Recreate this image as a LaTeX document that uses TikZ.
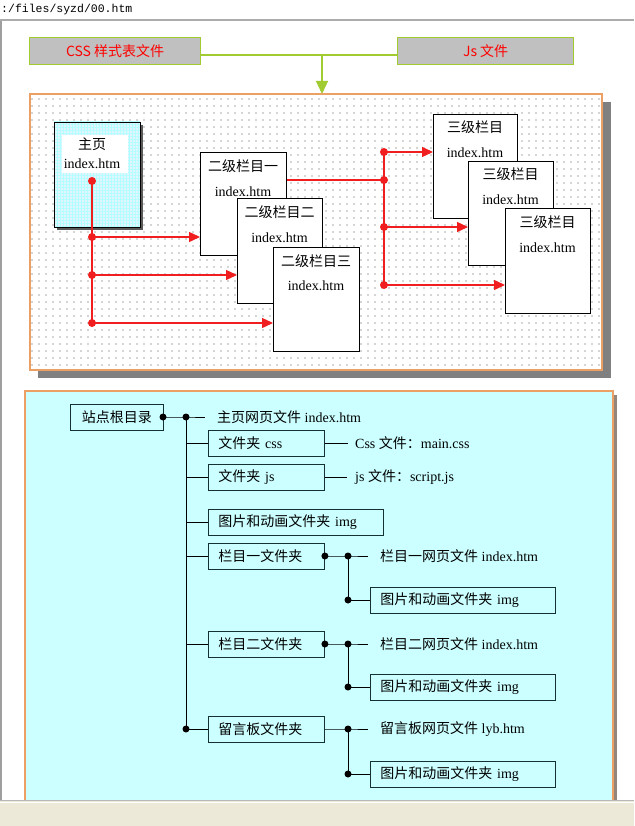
\documentclass[tikz,border=0pt]{standalone}
\usepackage{fontspec}
\setmainfont{Liberation Serif}
\setmonofont{Liberation Mono}
\newfontfamily\cjk{Noto Sans CJK SC}
\usetikzlibrary{patterns.meta,arrows.meta}
\definecolor{panelor}{RGB}{236,160,100}
\definecolor{lcyan}{RGB}{204,255,255}
\definecolor{lgreen}{RGB}{160,204,50}
\definecolor{bgray}{RGB}{192,192,192}
\definecolor{shgray}{RGB}{128,128,128}
\definecolor{barbg}{RGB}{236,233,216}
\definecolor{rcol}{RGB}{240,30,30}
\definecolor{tcol}{RGB}{20,50,50}
\newcommand{\zh}[1]{{\cjk #1}}
\begin{document}
\begin{tikzpicture}[x=1pt,y=-1pt,
  topbox/.style={draw=lgreen, line width=1.2pt, fill=bgray, minimum height=27pt, inner sep=0pt, text=red, font=\cjk\fontsize{14}{16}\selectfont, anchor=north west},
  page/.style={draw=black, line width=0.8pt, fill=white, inner sep=0pt, anchor=north west},
  ptext/.style={font=\fontsize{14}{16}\selectfont, inner sep=0pt},
  rdot/.style={circle, fill=rcol, inner sep=0pt, minimum size=8pt},
  redln/.style={draw=rcol, line width=1.4pt},
  rarrow/.style={draw=rcol, line width=1.4pt, -{Triangle[length=11pt,width=10pt]}},
  bdot/.style={circle, fill=black, inner sep=0pt, minimum size=7pt},
  tbox/.style={draw=tcol, line width=0.9pt, inner xsep=10pt, inner ysep=0pt, minimum height=26pt, align=left, anchor=west, font=\fontsize{14}{16}\selectfont},
  tline/.style={draw=black, line width=1pt},
  ttext/.style={anchor=west, inner sep=0pt, font=\fontsize{14}{16}\selectfont}
]
\useasboundingbox (0,0) rectangle (634,826);
\fill[white] (0,0) rectangle (634,826);
% browser frame
\node[anchor=base west, inner sep=0pt, font=\ttfamily\fontsize{11.5}{13}\selectfont] (url) at (1,13) {:/files/syzd/00.htm};
\fill[gray!65] (0,19) rectangle (634,21.5);
\fill[gray!75] (0,21.5) rectangle (2,800);

% top boxes
\node[topbox, minimum width=171pt] (css) at (29,37) {CSS 样式表文件};
\node[topbox, minimum width=176pt] (jsf) at (397,37) {Js 文件};
\coordinate (jn) at (322,55);
\coordinate (ptop) at (322,94);
\draw[lgreen, line width=1.3pt] (css.east |- jn) -- (jsf.west |- jn);
\draw[lgreen, line width=1.3pt, -{Triangle[length=13pt,width=12pt]}] (jn) -- (ptop);

% upper panel
\fill[shgray] (38,102) rectangle (611,378);
\fill[white] (30,94) rectangle (602,370);
\fill[pattern={Dots[distance=6.5pt,radius=0.65pt]}, pattern color=black!70] (30,94) rectangle (602,370);
\draw[panelor, line width=1.3pt] (30,94) rectangle (602,370);

% main page
\fill[shgray!70!black] (57,125) rectangle (143,230);
\fill[cyan!12] (54,122) rectangle (140,227);
\fill[pattern={Hatch[distance=3pt,angle=0,line width=0.4pt]}, pattern color=cyan!30] (54,122) rectangle (140,227);
\fill[white] (62,135) rectangle (128,173);
\node[page, fill=none, minimum width=86pt, minimum height=105pt] (mp) at (54,122) {};
\node[ptext] (mpt1) at (92,144) {\zh{主页}};
\node[ptext] (mpt2) at (92,164) {index.htm};

% second level pages
\node[page, minimum width=86pt, minimum height=103pt] (b1) at (200,152) {};
\node[ptext] (b1t1) at (243,166) {\zh{二级栏目一}};
\node[ptext] (b1t2) at (243,192) {index.htm};
\node[page, minimum width=85pt, minimum height=105pt] (b2) at (237,198) {};
\node[ptext] (b2t1) at (279.5,212) {\zh{二级栏目二}};
\node[ptext] (b2t2) at (279.5,238) {index.htm};
\node[page, minimum width=86pt, minimum height=104pt] (b3) at (273,247) {};
\node[ptext] (b3t1) at (316,261) {\zh{二级栏目三}};
\node[ptext] (b3t2) at (316,286) {index.htm};

% third level pages
\node[page, minimum width=84pt, minimum height=104pt] (c1) at (433,114) {};
\node[ptext] (c1t1) at (475,127) {\zh{三级栏目}};
\node[ptext] (c1t2) at (475,153) {index.htm};
\node[page, minimum width=85pt, minimum height=104pt] (c2) at (468,161) {};
\node[ptext] (c2t1) at (510.5,174) {\zh{三级栏目}};
\node[ptext] (c2t2) at (510.5,200) {index.htm};
\node[page, minimum width=85pt, minimum height=105pt] (c3) at (505,208) {};
\node[ptext] (c3t1) at (547.5,222) {\zh{三级栏目}};
\node[ptext] (c3t2) at (547.5,248) {index.htm};

% red connectors left
\coordinate (d0) at (92,181);
\coordinate (d1) at (92,237);
\coordinate (d2) at (92,275);
\coordinate (d3) at (92,323);
\draw[redln] (d0) -- (d3);
\draw[rarrow] (d1) -- (d1 -| b1.west);
\draw[rarrow] (d2) -- (d2 -| b2.west);
\draw[rarrow] (d3) -- (d3 -| b3.west);
\foreach \p in {d0,d1,d2,d3} \node[rdot] at (\p) {};

% red connectors right
\coordinate (e0) at (384,152);
\coordinate (e1) at (384,180);
\coordinate (e2) at (384,227);
\coordinate (e3) at (384,285);
\draw[redln] (b1.east |- e1) -- (e1);
\draw[redln] (e0) -- (e3);
\draw[rarrow] (e0) -- (e0 -| c1.west);
\draw[rarrow] (e2) -- (e2 -| c2.west);
\draw[rarrow] (e3) -- (e3 -| c3.west);
\foreach \p in {e0,e1,e2,e3} \node[rdot] at (\p) {};

% lower panel
\fill[shgray!80!panelor] (613,395) rectangle (617,800);
\fill[lcyan] (25,391) rectangle (613,812);
\draw[panelor, line width=1.3pt] (25,812) -- (25,391) -- (613,391) -- (613,812);

% tree
\node[draw=tcol, line width=0.9pt, minimum width=93pt, minimum height=26pt, inner sep=0pt, anchor=west, font=\fontsize{14}{16}\selectfont] (root) at (70,417) {\zh{站点根目录}};
\coordinate (r1) at (163,417);
\coordinate (r2) at (186,417);
\coordinate (rl) at (186,729);
\node[ttext] (t0) at (217,417) {\zh{主页网页文件} index.htm};
\draw[tline] (r1) -- (r2) -- ([xshift=-12pt]t0.west);
\draw[tline] (r2) -- (rl);

\node[tbox, text width=96pt] (fcss) at (208,443) {\zh{文件夹} css};
\node[tbox, text width=96pt] (fjs) at (208,477) {\zh{文件夹} js};
\node[tbox, text width=155pt] (img0) at (208,522) {\zh{图片和动画文件夹} img};
\node[tbox, text width=96pt] (lm1) at (208,556) {\zh{栏目一文件夹}};
\node[tbox, text width=96pt] (lm2) at (208,644) {\zh{栏目二文件夹}};
\node[tbox, text width=96pt] (lyb) at (208,729) {\zh{留言板文件夹}};
\foreach \b in {fcss,fjs,img0,lm1,lm2,lyb} \draw[tline] (\b.west -| r2) -- (\b.west);

\node[ttext] (csst) at (355,443) {Css \zh{文件：}main.css};
\node[ttext] (jst) at (355,477) {js \zh{文件：}script.js};
\draw[tline] (fcss.east) -- ([xshift=-7pt]csst.west);
\draw[tline] (fjs.east) -- ([xshift=-8pt]jst.west);

% sub-trees
\coordinate (s1) at (348,556);
\coordinate (s1b) at (348,600);
\node[ttext] (m1t) at (380,556) {\zh{栏目一网页文件} index.htm};
\node[tbox, text width=165pt] (img1) at (370,600) {\zh{图片和动画文件夹} img};
\draw[tline] (lm1.east) -- (s1) -- ([xshift=-12pt]m1t.west);
\draw[tline] (s1) -- (s1b) -- (img1.west);

\coordinate (s2) at (348,644);
\coordinate (s2b) at (348,687);
\node[ttext] (m2t) at (380,644) {\zh{栏目二网页文件} index.htm};
\node[tbox, text width=165pt] (img2) at (370,687) {\zh{图片和动画文件夹} img};
\draw[tline] (lm2.east) -- (s2) -- ([xshift=-12pt]m2t.west);
\draw[tline] (s2) -- (s2b) -- (img2.west);

\coordinate (s3) at (348,729);
\coordinate (s3b) at (348,774);
\node[ttext] (m3t) at (380,729) {\zh{留言板网页文件} lyb.htm};
\node[tbox, text width=165pt] (img3) at (370,774) {\zh{图片和动画文件夹} img};
\draw[tline] (lyb.east) -- (s3) -- ([xshift=-12pt]m3t.west);
\draw[tline] (s3) -- (s3b) -- (img3.west);

\foreach \p in {r1,r2,rl,s1,s1b,s2,s2b,s3,s3b} \node[bdot] at (\p) {};
\node[bdot] at (lm1.east) {};
\node[bdot] at (lm2.east) {};

% bottom bar
\fill[barbg] (0,800) rectangle (634,826);
\draw[gray!55, line width=1.2pt] (0,800.6) -- (634,800.6);
\draw[white, line width=1pt] (0,802) -- (634,802);
\end{tikzpicture}
\end{document}
